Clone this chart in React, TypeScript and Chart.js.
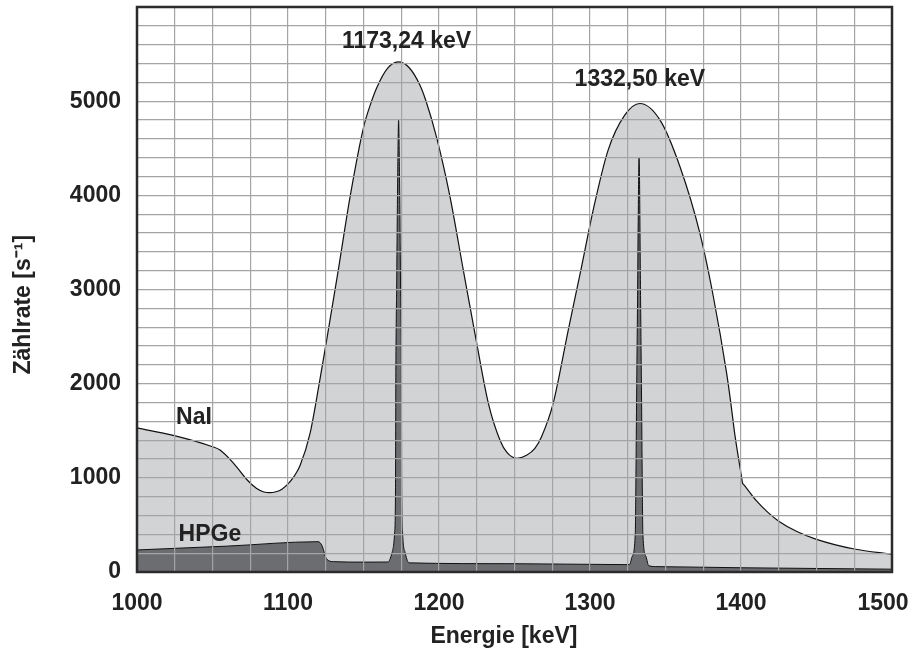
import React, { useEffect, useRef } from 'react';
import { Chart, registerables } from 'chart.js';

Chart.register(...registerables);

// NaI detector spectrum (energy keV, count rate 1/s)
const naiEnergy = [1000, 1024, 1050, 1055, 1064, 1073, 1079, 1084, 1088, 1092, 1096, 1100, 1104, 1108, 1114.6, 1120.7, 1125.6, 1133.3, 1141.1, 1150, 1154.5, 1158.7, 1166, 1173, 1180, 1187.4, 1191, 1198.5, 1207.3, 1216.1, 1225, 1232.7, 1240.4, 1245, 1251.5, 1258, 1263.5, 1267.9, 1275.6, 1285.6, 1294.4, 1302.1, 1312, 1323, 1333, 1346.4, 1359.6, 1372.8, 1381.7, 1390.5, 1393, 1396, 1400.2, 1401, 1401.8, 1410, 1418, 1425, 1437, 1450, 1475, 1500];
const naiRate = [1530, 1451, 1330, 1295, 1154, 977, 889, 850, 842, 852, 880, 935, 1015, 1130, 1472, 2003, 2463, 3206, 3984, 4720, 4960, 5140, 5350, 5417, 5360, 5170, 5020, 4610, 3984, 3206, 2427, 1791, 1400, 1270, 1207, 1240, 1313, 1437, 1791, 2569, 3241, 3843, 4480, 4851, 4975, 4798, 4303, 3595, 2923, 2109, 1826, 1450, 1026, 945, 929, 760, 630, 540, 430, 347, 244, 188];

// HPGe detector spectrum
const hpgeEnergy = [1000, 1060, 1120, 1122.5, 1125.5, 1130, 1150, 1166.2, 1168.8, 1170.6, 1171.2, 1171.4, 1172.0, 1172.6, 1173.24, 1173.9, 1174.5, 1175.1, 1175.3, 1175.9, 1177.7, 1180.2, 1250, 1326.1, 1327.9, 1330.0, 1330.3, 1330.85, 1331.5, 1332.5, 1333.5, 1334.15, 1334.7, 1335.0, 1337.1, 1338.9, 1345, 1400, 1500];
const hpgeRate = [234, 275, 322, 280, 140, 110, 105, 106, 200, 414, 900, 2000, 3100, 4130, 4800, 4130, 3100, 2000, 900, 414, 200, 97, 88, 78, 163, 414, 800, 1826, 2887, 4405, 2887, 1826, 800, 414, 163, 66, 57, 45, 30];

const xTickLabels = [1000, 1100, 1200, 1300, 1400, 1500];
const yTickLabels = [0, 1000, 2000, 3000, 4000, 5000];

const peakTexts = ['1173,24 keV', '1332,50 keV'];
const peakTextEnergy = [1178.5, 1333];
const peakTextRate = [5630, 5225];

const seriesNames = ['NaI', 'HPGe'];
const seriesNameEnergy = [1037.7, 1048.3];
const seriesNameRate = [1635, 393];

const xTitle = 'Energie [keV]';
const yTitle = 'Zählrate [s⁻¹]';

const FONT = '"Liberation Sans", Arial, Helvetica, sans-serif';
const TEXT_COLOR = '#222';

const overlayPlugin = {
  id: 'overlay',
  beforeDraw(chart: any) {
    // keep the last x label inside the canvas (nudged left like the original)
    const s = chart.scales.x;
    const items = s.getLabelItems(chart.chartArea);
    const last = String(xTickLabels[xTickLabels.length - 1]);
    items.forEach((it: any) => {
      if (it.label === last && !it._nudged) {
        it._nudged = true;
        it.options.translation = [it.options.translation[0] - 9, it.options.translation[1]];
      }
    });
  },
  afterDraw(chart: any) {
    const { ctx, chartArea: a, scales } = chart;
    const x = scales.x;
    const y = scales.y;
    ctx.save();
    ctx.strokeStyle = '#2b2b2b';
    ctx.lineWidth = 2.5;
    ctx.strokeRect(a.left, a.top, a.right - a.left, a.bottom - a.top);
    ctx.fillStyle = TEXT_COLOR;
    ctx.font = `bold 23px ${FONT}`;
    ctx.textAlign = 'center';
    ctx.textBaseline = 'middle';
    peakTexts.forEach((t, i) => {
      ctx.fillText(t, x.getPixelForValue(peakTextEnergy[i]), y.getPixelForValue(peakTextRate[i]));
    });
    seriesNames.forEach((t, i) => {
      ctx.fillText(t, x.getPixelForValue(seriesNameEnergy[i]), y.getPixelForValue(seriesNameRate[i]));
    });
    // axis titles
    ctx.fillText(xTitle, a.left + (a.right - a.left) * 0.486, 637);
    ctx.save();
    ctx.translate(24, a.top + (a.bottom - a.top) * 0.527);
    ctx.rotate(-Math.PI / 2);
    ctx.fillText(yTitle, 0, 0);
    ctx.restore();
    ctx.restore();
  },
};

export default function App() {
  const ref = useRef<HTMLCanvasElement>(null);

  useEffect(() => {
    if (!ref.current) return;
    const chart = new Chart(ref.current, {
      type: 'line',
      data: {
        datasets: [
          {
            label: 'HPGe',
            data: hpgeEnergy.map((e, i) => ({ x: e, y: hpgeRate[i] })),
            borderColor: '#111',
            borderWidth: 1,
            backgroundColor: '#6c6d70',
            fill: 'origin',
            pointRadius: 0,
            cubicInterpolationMode: 'monotone',
            order: 0,
          },
          {
            label: 'NaI',
            data: naiEnergy.map((e, i) => ({ x: e, y: naiRate[i] })),
            borderColor: '#111',
            borderWidth: 1.2,
            backgroundColor: '#d2d3d5',
            fill: 'origin',
            pointRadius: 0,
            cubicInterpolationMode: 'monotone',
            order: 1,
          },
        ],
      },
      options: {
        responsive: false,
        maintainAspectRatio: false,
        devicePixelRatio: 1,
        animation: false,
        layout: { padding: { top: 7, right: 23, left: 0, bottom: 0 } },
        plugins: {
          legend: { display: false },
          tooltip: { enabled: false },
        },
        scales: {
          x: {
            type: 'linear',
            min: 1000,
            max: 1500,
            border: { display: false },
            grid: { color: '#a4a4a4', lineWidth: 1.2, drawTicks: false, z: 1 },
            ticks: {
              stepSize: 25,
              autoSkip: false,
              maxRotation: 0,
              padding: 18,
              color: TEXT_COLOR,
              font: { family: FONT, size: 23, weight: 'bold' },
              callback: (v: any) => (xTickLabels.includes(Number(v)) ? String(v) : ''),
            },
            title: { display: false },
            afterFit: (s: any) => {
              s.height = 85;
              s.paddingLeft = 0;
              s.paddingRight = 0;
            },
          },
          y: {
            type: 'linear',
            min: 0,
            max: 6000,
            border: { display: false },
            grid: { color: '#a4a4a4', lineWidth: 1.2, drawTicks: false, z: 1 },
            ticks: {
              stepSize: 200,
              autoSkip: false,
              padding: 16,
              color: TEXT_COLOR,
              font: { family: FONT, size: 23, weight: 'bold' },
              callback: (v: any) => (yTickLabels.includes(Number(v)) ? String(v) : ''),
            },
            title: { display: false },
            afterFit: (s: any) => {
              s.width = 137;
              s.paddingTop = 0;
              s.paddingBottom = 0;
            },
          },
        },
      },
      plugins: [overlayPlugin],
    } as any);
    return () => chart.destroy();
  }, []);

  return (
    <div style={{ position: 'fixed', left: 0, top: 0, width: 915, height: 657, background: '#fff', overflow: 'hidden' }}>
      <canvas ref={ref} width={915} height={657} style={{ display: 'block', width: 915, height: 657 }} />
    </div>
  );
}
